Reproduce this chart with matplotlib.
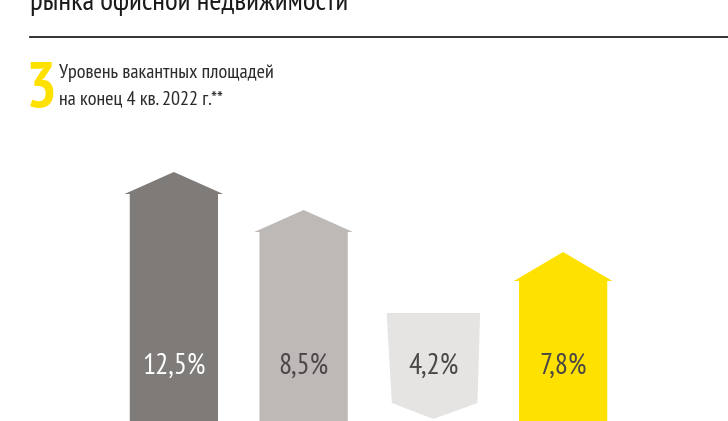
import matplotlib.pyplot as plt
from matplotlib.patches import Polygon

# ---------------------------------------------------------------------------
# Data
# ---------------------------------------------------------------------------
labels = ["12,5%", "8,5%", "4,2%", "7,8%"]
values = [12.5, 8.5, 4.2, 7.8]
# visual height of each arrow (top of arrow, chart units) and its direction
arrow_top = [249, 211, 108, 169]
direction = ["up", "up", "down", "up"]

title = "рынка офисной недвижимости"
subtitle = ["Уровень вакантных площадей", "на конец 4 кв. 2022 г.**"]
number = "3"

COLORS = ["#7f7b79", "#bcb9b7", "#e5e4e3", "#ffe100"]
TEXT_COLORS = ["#ffffff", "#4a4746", "#4a4746", "#4a4746"]
YELLOW = "#ffe100"
FONT = ["PT Sans Narrow", "Roboto Condensed", "DejaVu Sans"]

W, H = 728, 421
fig = plt.figure(figsize=(W / 100, H / 100), dpi=100, facecolor="white")

# ---------------------------------------------------------------------------
# Header
# ---------------------------------------------------------------------------
fig.text(30 / W, 1 - 10 / H, title, family=FONT, fontsize=21, color="#1a1a1a",
         ha="left", va="baseline")
fig.add_artist(plt.Line2D([30 / W, 1.0], [1 - 37 / H, 1 - 37 / H],
                          color="#222222", lw=1.3))
fig.text(26 / W, 1 - 107 / H, number, family=FONT, fontsize=47, fontweight="bold",
         color=YELLOW, ha="left", va="baseline")
for k, line in enumerate(subtitle):
    fig.text(59 / W, 1 - (78 + 26 * k) / H, line, family=FONT, fontsize=14.5,
             color="#2b2b2b", ha="left", va="baseline")

# ---------------------------------------------------------------------------
# Arrow bars
# ---------------------------------------------------------------------------
ax = fig.add_axes([109 / W, 0, 519 / W, 1])
ax.set_xlim(-0.5, 3.5)
ax.set_ylim(0, H)
ax.axis("off")

body = 0.34   # half width of the body
wing = 0.38   # half width of the arrowhead


def arrow_shape(x, top, kind):
    if kind == "up":
        head = 22 if top > 180 else 29
        return [(x - body, -5), (x - body, top - head), (x - wing, top - head),
                (x, top), (x + wing, top - head), (x + body, top - head),
                (x + body, -5)]
    return [(x - body - 0.02, top), (x + body + 0.02, top), (x + body, 18),
            (x, 2), (x - body + 0.02, 18)]


for i, (top, kind) in enumerate(zip(arrow_top, direction)):
    ax.add_patch(Polygon(arrow_shape(i, top, kind), closed=True,
                         facecolor=COLORS[i], edgecolor="none"))
    ax.text(i, 55, labels[i], family=FONT, fontsize=21, color=TEXT_COLORS[i],
            ha="center", va="center")

fig.savefig("out.png", dpi=100, facecolor="white")
